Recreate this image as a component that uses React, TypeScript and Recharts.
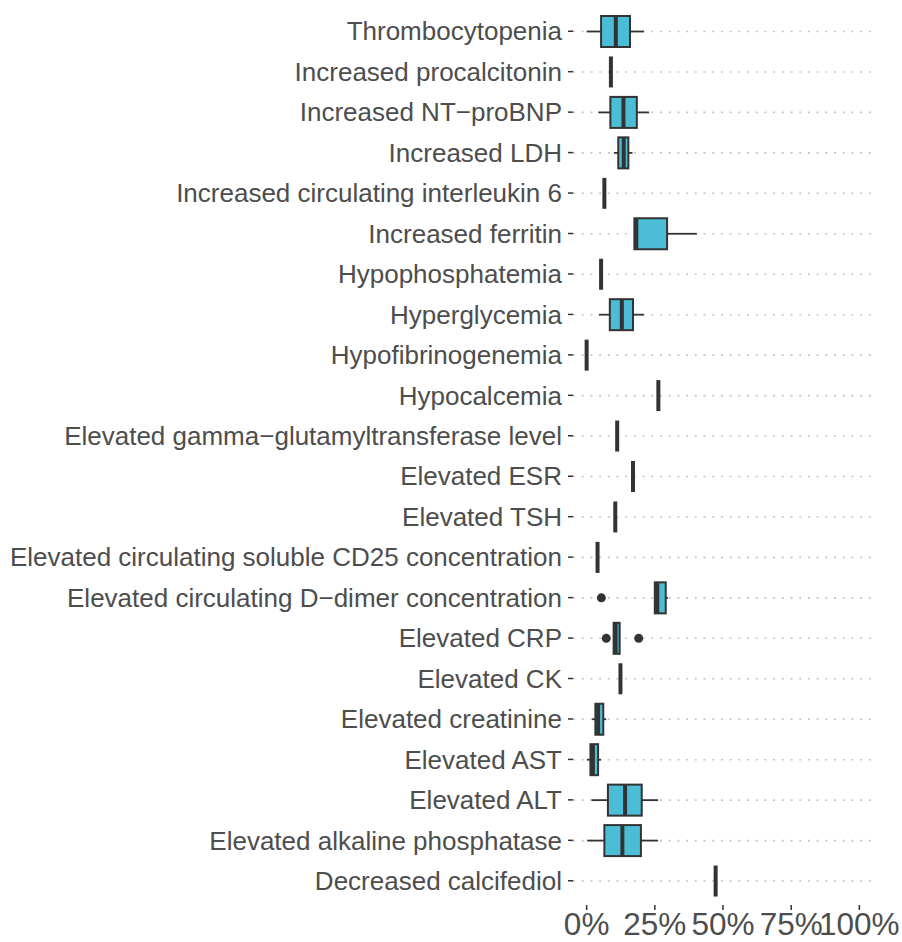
import { ComposedChart, Bar, XAxis, YAxis } from 'recharts';

const categories = [
  'Thrombocytopenia',
  'Increased procalcitonin',
  'Increased NT−proBNP',
  'Increased LDH',
  'Increased circulating interleukin 6',
  'Increased ferritin',
  'Hypophosphatemia',
  'Hyperglycemia',
  'Hypofibrinogenemia',
  'Hypocalcemia',
  'Elevated gamma−glutamyltransferase level',
  'Elevated ESR',
  'Elevated TSH',
  'Elevated circulating soluble CD25 concentration',
  'Elevated circulating D−dimer concentration',
  'Elevated CRP',
  'Elevated CK',
  'Elevated creatinine',
  'Elevated AST',
  'Elevated ALT',
  'Elevated alkaline phosphatase',
  'Decreased calcifediol',
];

// percent values
const lowerWhisker = [0, 8.9, 4.3, 10, 6.5, 17.5, 5.3, 4.5, 0, 26.3, 11.2, 17, 10.5, 4, 25, 9.9, 12.4, 2, 0.1, 1.8, 0.2, 47.3];
const q1 = [5.3, 8.9, 8.7, 11.6, 6.5, 17.5, 5.3, 8.5, 0, 26.3, 11.2, 17, 10.5, 4, 25, 9.9, 12.4, 3.2, 1.4, 7.8, 6.5, 47.3];
const median = [10.7, 8.9, 13.5, 13.6, 6.5, 18.2, 5.3, 12.9, 0, 26.3, 11.2, 17, 10.5, 4, 25.9, 10.6, 12.4, 4.2, 2.3, 14.1, 13.1, 47.3];
const q3 = [15.9, 8.9, 18.4, 15.3, 6.5, 29.5, 5.3, 17, 0, 26.3, 11.2, 17, 10.5, 4, 29, 12.1, 12.4, 6.1, 4.2, 20.2, 19.9, 47.3];
const upperWhisker = [21, 8.9, 22.9, 16.8, 6.5, 40.4, 5.3, 21, 0, 26.3, 11.2, 17, 10.5, 4, 29.8, 12.1, 12.4, 7.2, 5.3, 26.2, 26.2, 47.3];
const outliers: number[][] = [
  [], [], [], [], [], [], [], [], [], [], [], [], [], [],
  [5.4],
  [7.2, 19.1],
  [], [], [], [], [], [],
];

const xTicks = [0, 25, 50, 75, 100];
const xDomain = [-5, 105];

const chartData = categories.map((name, i) => ({
  name,
  lo: lowerWhisker[i],
  q1: q1[i],
  med: median[i],
  q3: q3[i],
  hi: upperWhisker[i],
  out: outliers[i],
  span: [xTicks[0], xTicks[xTicks.length - 1]],
}));

const INK = '#333333';
const FILL = '#4BBDD7';
const GRID = '#c4c4c4';
const FONT = '"Liberation Sans", Arial, sans-serif';

function BoxShape(props: any) {
  const { x, y, width, height, payload, background } = props;
  const [s0, s1] = payload.span;
  const toX = (v: number) => x + ((v - s0) / (s1 - s0)) * width;
  const cy = y + height / 2;
  const xq1 = toX(payload.q1);
  const xq3 = toX(payload.q3);
  const xm = toX(payload.med);
  // dotted row gridline under the box
  const gx0 = background ? background.x : toX(xDomain[0]);
  const gx1 = background ? background.x + background.width : toX(xDomain[1]);
  return (
    <g>
      <line x1={gx0} x2={gx1} y1={cy} y2={cy} stroke={GRID} strokeWidth={1.6} strokeDasharray="2 6.7" />
      <line x1={toX(payload.lo)} x2={xq1} y1={cy} y2={cy} stroke={INK} strokeWidth={1.8} />
      <line x1={xq3} x2={toX(payload.hi)} y1={cy} y2={cy} stroke={INK} strokeWidth={1.8} />
      {xq3 > xq1 && (
        <rect x={xq1} y={y} width={xq3 - xq1} height={height} fill={FILL} stroke={INK} strokeWidth={2} />
      )}
      <line x1={xm} x2={xm} y1={y} y2={y + height} stroke={INK} strokeWidth={4} />
      {payload.out.map((v: number, k: number) => (
        <circle key={k} cx={toX(v)} cy={cy} r={4.5} fill={INK} />
      ))}
    </g>
  );
}

export default function App() {
  return (
    <div style={{ position: 'absolute', left: 0, top: 0, background: '#fff' }}>
      <ComposedChart
        width={902}
        height={942}
        data={chartData}
        layout="vertical"
        margin={{ top: 7, right: 29, bottom: 0, left: 0 }}
      >
        <XAxis
          type="number"
          domain={xDomain}
          ticks={xTicks}
          interval={0}
          allowDataOverflow
          tickFormatter={(v) => `${v}%`}
          axisLine={false}
          tickLine={{ stroke: INK, strokeWidth: 1.5 }}
          tickSize={5}
          tickMargin={3}
          height={37}
          tick={{ fontSize: 31.5, fill: '#4d4d4d', fontFamily: FONT }}
        />
        <YAxis
          type="category"
          dataKey="name"
          width={573}
          interval={0}
          padding={{ top: 4, bottom: 4 }}
          axisLine={false}
          tickLine={{ stroke: INK, strokeWidth: 1.5 }}
          tickSize={5}
          tickMargin={6}
          tick={{ fontSize: 26, fill: '#4d4d4d', fontFamily: FONT }}
        />
        <Bar dataKey="span" barSize={31} shape={<BoxShape />} isAnimationActive={false} />
      </ComposedChart>
    </div>
  );
}
